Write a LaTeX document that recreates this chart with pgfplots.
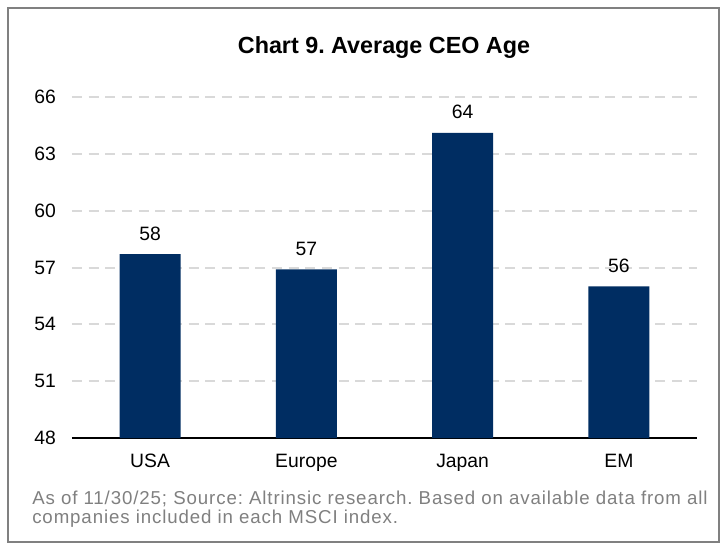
\documentclass[border=0pt]{standalone}
\usepackage{fontspec}
\setmainfont{Liberation Sans}
\newfontfamily\notefont[LetterSpace=4.8]{Liberation Sans}
\usepackage{pgfplots}
\pgfplotsset{compat=1.18}
\definecolor{barblue}{RGB}{0,45,98}
\definecolor{gridgray}{RGB}{217,217,217}
\definecolor{framegray}{RGB}{128,128,128}
\definecolor{notegray}{RGB}{128,128,128}
\frenchspacing
\begin{document}
\begin{tikzpicture}
% page background and frame
\fill[white] (-54pt,-81.75pt) rectangle (490.5pt,328.5pt);
\draw[framegray, line width=1.5pt] (-48pt,-78pt) rectangle (485.25pt,322.5pt);
\begin{axis}[
  at={(0,0)}, anchor=south west,
  scale only axis, width=468.75pt, height=255.75pt,
  xmin=-0.5, xmax=3.5, ymin=48, ymax=66,
  xtick={0,1,2,3}, xticklabels={USA,Europe,Japan,EM},
  ytick={48,51,...,66},
  axis x line*=bottom, axis y line*=left,
  x axis line style={-, black, line width=1.5pt},
  y axis line style={draw=none},
  major tick length=0pt,
  ymajorgrids,
  grid style={gridgray, line width=1.5pt, dash pattern=on 7.5pt off 5pt},
  tick label style={font=\fontsize{14.5}{17}\selectfont, black},
  /pgf/number format/assume math mode=true,
  yticklabel style={xshift=-8.5pt},
  xticklabel style={yshift=-8.7pt},
]
\addplot[ybar, bar width=45.75pt, fill=barblue, draw=none,
  nodes near coords, point meta=y,
  nodes near coords style={font=\fontsize{14.5}{17}\selectfont, black, yshift=7pt,
    /pgf/number format/fixed, /pgf/number format/precision=0}]
  coordinates {(0,57.7) (1,56.9) (2,64.1) (3,56.0)};
\end{axis}
\node[anchor=base, inner sep=0, font=\bfseries\fontsize{17.5}{21}\selectfont]
  at (234pt,288.5pt) {Chart 9. Average CEO Age};
\node[anchor=base west, inner sep=0, text=notegray, font=\notefont\fontsize{14}{17}\selectfont]
  at (-30pt,-50pt) {As of 11/30/25; Source: Altrinsic research. Based on available data from all};
\node[anchor=base west, inner sep=0, text=notegray, font=\notefont\fontsize{14}{17}\selectfont]
  at (-30pt,-64.25pt) {companies included in each MSCI index.};
\end{tikzpicture}
\end{document}
